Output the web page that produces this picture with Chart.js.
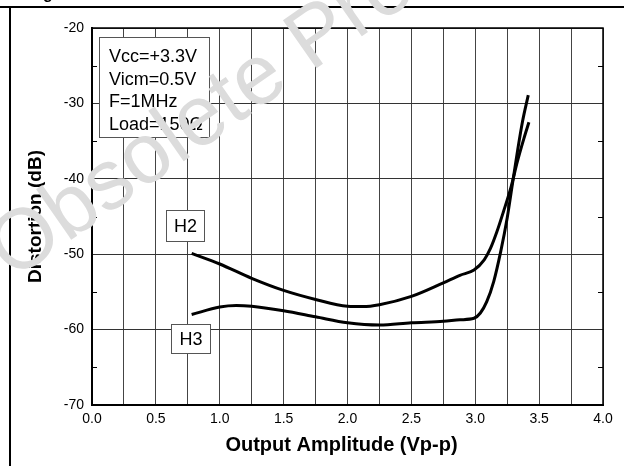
<!DOCTYPE html>
<html><head><meta charset="utf-8">
<script src="https://cdn.jsdelivr.net/npm/chart.js@4"></script>
<style>html,body{margin:0;padding:0;background:#fff;}#wrap{position:relative;width:624px;height:466px;}</style>
</head><body><div id="wrap"><canvas id="c" width="624" height="466"></canvas></div>
<script>
// ---- data ----
const seriesNames = ['H2', 'H3'];
const h2X = [0.78, 1.0, 1.25, 1.5, 1.75, 2.0, 2.12, 2.25, 2.5, 2.75, 2.88, 2.99, 3.07, 3.12, 3.17, 3.22, 3.28, 3.33, 3.38, 3.42];
const h2Y = [-49.9, -51.3, -53.2, -54.8, -56.0, -56.9, -56.95, -56.7, -55.6, -53.8, -52.8, -52.1, -50.75, -49.2, -47.0, -44.4, -41.1, -37.7, -34.7, -32.5];
const h3X = [0.78, 1.0, 1.13, 1.25, 1.5, 1.75, 2.0, 2.25, 2.5, 2.75, 2.88, 2.99, 3.04, 3.09, 3.145, 3.2, 3.25, 3.29, 3.33, 3.37, 3.415];
const h3Y = [-58.0, -57.0, -56.8, -56.9, -57.5, -58.3, -59.1, -59.4, -59.1, -58.9, -58.7, -58.5, -57.8, -56.3, -53.6, -49.6, -45.2, -40.8, -36.4, -32.4, -28.9];
const xRange = [0, 4];
const yRange = [-70, -20];
const xLabelStep = 0.5;
const yLabelStep = 10;
const conditionLines = ['Vcc=+3.3V', 'Vicm=0.5V', 'F=1MHz', 'Load=150\u03A9'];
const xTitle = 'Output Amplitude (Vp-p)';
const yTitle = 'Distortion (dB)';
const watermarkText = 'Obsolete Product(s) - Obsolete Product(s)';

const FONT = "'Liberation Sans', Arial, Helvetica, sans-serif";

function pts(xs, ys) { return xs.map((x, i) => ({ x: x, y: ys[i] })); }

const decorations = {
  id: 'decorations',
  beforeDraw(chart) {
    const ctx = chart.ctx;
    ctx.save();
    ctx.fillStyle = '#fff';
    ctx.fillRect(0, 0, chart.width, chart.height);
    ctx.restore();
  },
  afterDraw(chart) {
    const ctx = chart.ctx;
    const a = chart.chartArea;
    const xs = chart.scales.x, ys = chart.scales.y;
    ctx.save();
    // plot frame top/right
    ctx.strokeStyle = '#000';
    ctx.lineWidth = 1.5;
    ctx.beginPath();
    ctx.moveTo(a.left, a.top); ctx.lineTo(a.right, a.top); ctx.lineTo(a.right, a.bottom);
    ctx.stroke();
    // minor y ticks inside
    ctx.lineWidth = 1;
    for (let v = yRange[0] + 5; v < yRange[1]; v += 10) {
      const py = Math.round(ys.getPixelForValue(v)) + 0.5;
      ctx.beginPath();
      ctx.moveTo(a.left, py); ctx.lineTo(a.left + 5, py);
      ctx.moveTo(a.right, py); ctx.lineTo(a.right - 5, py);
      ctx.stroke();
    }
    // x-axis title
    ctx.fillStyle = '#000';
    ctx.font = 'bold 20px ' + FONT;
    ctx.textAlign = 'center';
    ctx.textBaseline = 'middle';
    ctx.fillText(xTitle, (a.left + a.right) / 2 - 6, 445);
    // boxes
    function box(x0, x1, y0, y1) {
      const l = Math.round(xs.getPixelForValue(x0)) + 0.5, r = Math.round(xs.getPixelForValue(x1)) + 0.5;
      const t = Math.round(ys.getPixelForValue(y0)) + 0.5, b = Math.round(ys.getPixelForValue(y1)) + 0.5;
      ctx.fillStyle = '#fff';
      ctx.fillRect(l, t, r - l, b - t);
      ctx.strokeStyle = '#555';
      ctx.lineWidth = 1;
      ctx.strokeRect(l, t, r - l, b - t);
      return { l, r, t, b };
    }
    const ib = box(0.052, 0.912, -21.15, -34.4);
    ctx.fillStyle = '#000';
    ctx.font = '18px ' + FONT;
    ctx.textAlign = 'left';
    ctx.textBaseline = 'middle';
    conditionLines.forEach((s, i) => ctx.fillText(s, ib.l + 9.5, ib.t + 20 + i * 22.4));
    const b2 = box(0.582, 0.874, -44.2, -48.2);
    ctx.fillStyle = '#000';
    ctx.textAlign = 'center';
    ctx.fillText(seriesNames[0], (b2.l + b2.r) / 2, (b2.t + b2.b) / 2 + 1);
    const b3 = box(0.619, 0.921, -59.2, -63.1);
    ctx.fillStyle = '#000';
    ctx.fillText(seriesNames[1], (b3.l + b3.r) / 2, (b3.t + b3.b) / 2 + 1);
    // page frame lines
    ctx.fillStyle = '#000';
    ctx.fillRect(0, 6, chart.width, 2);
    ctx.fillRect(9, 6, 2, chart.height - 6);
    ctx.font = 'bold 16px ' + FONT;
    ctx.textAlign = 'left';
    ctx.textBaseline = 'alphabetic';
    ctx.fillText('g', 43, -1);
    // watermark
    ctx.fillStyle = '#dcdcdc';
    ctx.font = '85px ' + FONT;
    ctx.translate(12.6, 281);
    ctx.rotate(-35 * Math.PI / 180);
    ctx.fillText(watermarkText, 0, 0);
    ctx.restore();
  }
};

new Chart(document.getElementById('c'), {
  type: 'line',
  data: {
    datasets: [
      { label: seriesNames[0], data: pts(h2X, h2Y), borderColor: '#000', borderWidth: 3, pointRadius: 0, fill: false, cubicInterpolationMode: 'monotone' },
      { label: seriesNames[1], data: pts(h3X, h3Y), borderColor: '#000', borderWidth: 3, pointRadius: 0, fill: false, cubicInterpolationMode: 'monotone' }
    ]
  },
  options: {
    responsive: false,
    animation: false,
    devicePixelRatio: 1,
    layout: { padding: { left: 24, top: 28, right: 21, bottom: 9 } },
    plugins: { legend: { display: false }, tooltip: { enabled: false } },
    scales: {
      x: {
        type: 'linear', min: xRange[0], max: xRange[1],
        afterFit(s) { s.height = 52; },
        ticks: {
          stepSize: 0.25, autoSkip: false, maxRotation: 0, padding: 6,
          color: '#000', font: { family: FONT, size: 14 },
          callback: (v) => (Math.abs(v / xLabelStep - Math.round(v / xLabelStep)) < 1e-6 ? Number(v).toFixed(1) : '')
        },
        grid: { color: '#444', lineWidth: 1, drawTicks: false },
        border: { display: true, color: '#000', width: 2 },
        title: { display: false, text: xTitle }
      },
      y: {
        type: 'linear', min: yRange[0], max: yRange[1],
        afterFit(s) { s.width = 68; },
        ticks: {
          stepSize: 5, autoSkip: false, padding: 8,
          color: '#000', font: { family: FONT, size: 14 },
          callback: (v) => (v % yLabelStep === 0 ? String(v) : '')
        },
        grid: { color: (c) => (c.tick && c.tick.value % yLabelStep === 0 ? '#333' : 'rgba(0,0,0,0)'), lineWidth: 1, drawTicks: false },
        border: { display: true, color: '#000', width: 2 },
        title: { display: true, text: yTitle, color: '#000', font: { family: FONT, size: 19, weight: 'bold' }, padding: 0 }
      }
    }
  },
  plugins: [decorations]
});
</script></body></html>
